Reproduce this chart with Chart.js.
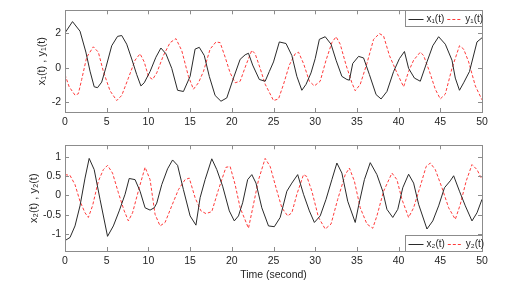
<!DOCTYPE html>
<html>
<head>
<meta charset="utf-8">
<script src="https://cdn.jsdelivr.net/npm/chart.js@4"></script>
<style>
  body { margin: 0; background: #fff; }
  .wrap { position: absolute; left: 0; }
</style>
</head>
<body>
<div class="wrap" style="top:0"><canvas id="top" width="506" height="135"></canvas></div>
<div class="wrap" style="top:135px"><canvas id="bottom" width="506" height="155"></canvas></div>
<script>
// time (s), value pairs
var x1 = [[0,2.0],[0.9,2.65],[1.8,2.1],[2.5,0.9],[3.0,-0.2],[3.5,-1.1],[3.9,-1.15],[4.4,-0.83],[4.9,0],[5.6,1.26],[6.3,1.8],[6.8,1.85],[7.4,1.35],[8.0,0.5],[8.6,-0.4],[9.1,-1.05],[9.5,-0.87],[10.2,-0.22],[10.9,0.6],[11.5,1.13],[12.1,0.8],[12.8,-0.04],[13.5,-1.3],[14.2,-1.37],[15.0,-0.5],[15.6,1.07],[16.1,1.17],[16.7,0.7],[17.3,-0.5],[18.0,-1.6],[18.7,-1.93],[19.4,-1.74],[20.2,-0.6],[21.0,0.48],[21.6,0.74],[22.0,0.83],[22.5,0.15],[23.3,-0.68],[24.0,-0.78],[24.5,-0.22],[25.0,0.33],[25.7,1.48],[26.5,1.39],[27.2,0.7],[27.8,-0.5],[28.4,-1.3],[28.9,-0.96],[29.5,-0.3],[30.0,0.52],[30.5,1.63],[31.2,1.78],[31.9,1.35],[32.5,0.43],[33.2,-0.5],[33.8,-0.68],[34.1,-0.72],[34.5,0.24],[35.2,0.65],[35.8,0.56],[36.5,-0.4],[37.3,-1.55],[37.9,-1.8],[38.6,-1.37],[39.4,-0.22],[40.1,0.52],[40.7,0.93],[41.2,-0.04],[41.9,-0.6],[42.6,-0.78],[43.4,0.33],[44.1,1.26],[44.8,1.78],[45.6,1.35],[46.4,0.43],[46.8,-0.6],[47.3,-1.3],[47.8,-0.87],[48.5,-0.22],[49.4,1.48],[50,1.72]];
var y1 = [[0,-0.4],[0.5,-1.1],[1.2,-1.58],[1.6,-1.5],[2.0,-0.68],[2.6,0.6],[3.4,1.2],[4.0,0.89],[4.6,-0.22],[5.4,-1.33],[6.2,-1.89],[6.8,-1.6],[7.6,-0.6],[8.4,0.43],[9.0,0.8],[9.5,0.33],[10.0,-0.5],[10.5,-0.68],[11.0,-0.3],[11.8,0.7],[12.6,1.44],[13.3,1.67],[14.0,0.98],[14.8,-0.5],[15.4,-1.24],[16.0,-0.87],[16.6,-0.22],[17.4,1.07],[18.1,1.48],[18.6,1.44],[19.2,0.61],[19.8,-0.3],[20.4,-0.87],[21.0,-0.78],[21.7,0.15],[22.4,1.0],[22.8,0.8],[23.4,-0.04],[24.0,-0.95],[25.0,-1.89],[25.6,-1.8],[26.2,-0.96],[26.9,0.15],[27.6,0.8],[28.0,0.89],[28.6,0.24],[29.3,-0.78],[29.9,-1.05],[30.6,-0.78],[31.3,0.43],[32.0,1.44],[32.5,1.78],[33.0,1.35],[33.7,0.15],[34.4,-0.87],[34.8,-1.33],[35.4,-0.96],[36.2,0.24],[37.0,1.63],[37.7,1.96],[38.2,1.82],[38.9,0.7],[39.8,-0.3],[40.6,-1.1],[41.2,-0.22],[41.8,0.43],[42.6,0.89],[43.0,0.7],[43.7,-0.22],[44.4,-1.24],[45.0,-1.8],[45.6,-1.52],[46.4,-0.04],[47.3,1.26],[47.8,1.07],[48.4,0.33],[49.2,-1.05],[50,-1.85]];
var x2 = [[0,-1.17],[0.6,-1.09],[1.2,-0.79],[1.8,-0.27],[2.4,0.45],[2.9,0.96],[3.5,0.67],[4.2,-0.1],[5.1,-1.06],[5.8,-0.79],[6.5,-0.4],[7.2,0.03],[7.7,0.44],[8.4,0.41],[9.0,0.11],[9.6,-0.32],[10.2,-0.38],[10.7,-0.32],[11.0,-0.2],[11.6,0.28],[12.3,0.69],[12.9,0.92],[13.5,0.78],[14.2,0.15],[15.0,-0.53],[15.7,-0.77],[16.2,-0.06],[16.8,0.41],[17.6,0.95],[18.2,0.67],[18.9,0.24],[19.7,-0.4],[20.3,-0.66],[20.8,-0.53],[21.3,-0.19],[21.9,0.41],[22.4,0.54],[22.9,0.32],[23.6,-0.32],[24.4,-0.79],[25.1,-0.81],[25.8,-0.57],[26.6,0.11],[27.2,0.32],[27.9,0.54],[28.6,0.03],[29.3,-0.4],[29.9,-0.7],[30.6,-0.53],[31.3,-0.1],[32.0,0.41],[32.6,0.84],[33.2,0.58],[33.9,-0.15],[34.8,-0.7],[35.2,-0.27],[35.9,0.41],[36.6,0.85],[37.4,0.54],[38.1,0.11],[38.6,-0.36],[39.3,-0.57],[39.9,-0.36],[40.5,0.2],[41.2,0.55],[41.8,0.32],[42.4,-0.23],[43.4,-0.87],[44.1,-0.66],[44.8,-0.27],[45.5,0.2],[46.2,0.38],[46.6,0.51],[47.3,0.11],[48.0,-0.27],[48.8,-0.66],[49.4,-0.45],[50,-0.1]];
var y2 = [[0,0.54],[0.6,0.52],[1.2,0.28],[1.8,-0.15],[2.4,-0.45],[2.8,-0.57],[3.3,-0.27],[4.0,0.37],[4.6,0.67],[5.1,0.78],[5.7,0.58],[6.4,0.07],[7.1,-0.4],[7.6,-0.66],[8.1,-0.45],[8.9,0.2],[9.6,0.73],[10.2,0.41],[10.8,-0.49],[11.4,-0.79],[12.0,-0.7],[12.8,-0.27],[13.6,0.15],[14.4,0.41],[14.9,0.45],[15.6,-0.06],[16.3,-0.4],[16.9,-0.47],[17.6,-0.42],[18.4,0.15],[19.3,0.73],[19.8,0.75],[20.4,0.28],[21.0,-0.32],[22.0,-0.85],[22.6,-0.23],[23.2,0.4],[24.0,0.96],[24.6,0.75],[25.3,0.2],[26.0,-0.32],[26.7,-0.53],[27.2,-0.45],[27.8,0.03],[28.6,0.54],[29.0,0.49],[29.6,0.11],[30.4,-0.57],[31.2,-0.87],[31.9,-0.74],[32.7,-0.1],[33.6,0.54],[34.1,0.71],[34.7,0.37],[35.4,-0.32],[36.2,-0.74],[36.9,-0.85],[37.4,-0.53],[38.2,0.11],[39.2,0.58],[39.8,0.41],[40.4,-0.1],[41.2,-0.57],[41.8,-0.32],[42.6,0.24],[43.3,0.75],[43.8,0.84],[44.4,0.67],[45.2,0.2],[46.0,-0.32],[46.8,-0.62],[47.4,-0.23],[48.1,0.37],[48.8,0.8],[49.4,0.67],[50,0.41]];

var timeTicks = [0, 5, 10, 15, 20, 25, 30, 35, 40, 45, 50];
var topTicks = [-2, 0, 2];
var bottomTicks = [-1, -0.5, 0, 0.5, 1];

var FONT = 'Arial, "Liberation Sans", Helvetica, sans-serif';
var BLACK = '#2a2a2a', RED = '#ff3b3b', AXIS = '#8c8c8c', TXT = '#262626';

function pts(arr) { return arr.map(function (p) { return { x: p[0], y: p[1] }; }); }

// MATLAB-like box with inward ticks, and a boxed legend inside the axes
var boxPlugin = {
  id: 'box',
  afterDraw: function (chart, args, opts) {
    var ctx = chart.ctx, a = chart.chartArea, xs = chart.scales.x, ys = chart.scales.y;
    ctx.save();
    ctx.strokeStyle = AXIS;
    ctx.lineWidth = 1;
    ctx.strokeRect(Math.round(a.left) + 0.5, Math.round(a.top) + 0.5, Math.round(a.right - a.left), Math.round(a.bottom - a.top));
    ctx.beginPath();
    xs.ticks.forEach(function (t) {
      var p = Math.round(xs.getPixelForValue(t.value)) + 0.5;
      ctx.moveTo(p, a.bottom); ctx.lineTo(p, a.bottom - 4);
      ctx.moveTo(p, a.top); ctx.lineTo(p, a.top + 4);
    });
    ys.ticks.forEach(function (t) {
      var p = Math.round(ys.getPixelForValue(t.value)) + 0.5;
      ctx.moveTo(a.left, p); ctx.lineTo(a.left + 4, p);
      ctx.moveTo(a.right, p); ctx.lineTo(a.right - 4, p);
    });
    ctx.stroke();

    // legend
    var w = 77, h = 16;
    var lx = Math.round(a.right) - w + 0.5;
    var ly = opts.corner === 'top' ? Math.round(a.top) + 0.5 : Math.round(a.bottom) - h + 0.5;
    ctx.fillStyle = '#fff';
    ctx.fillRect(lx, ly, w, h);
    ctx.strokeStyle = AXIS;
    ctx.strokeRect(lx, ly, w, h);
    ctx.font = '10px ' + FONT;
    ctx.textBaseline = 'middle';
    var cx = lx + 3, cy = ly + h / 2 + 0.5;
    chart.data.datasets.forEach(function (ds) {
      ctx.strokeStyle = ds.borderColor;
      ctx.lineWidth = 1;
      ctx.setLineDash(ds.borderDash || []);
      ctx.beginPath();
      ctx.moveTo(cx, Math.round(cy) + 0.5); ctx.lineTo(cx + 15, Math.round(cy) + 0.5);
      ctx.stroke();
      ctx.setLineDash([]);
      ctx.fillStyle = TXT;
      ctx.fillText(ds.label, cx + 18, cy);
      cx += 18 + ctx.measureText(ds.label).width + 3;
    });
    ctx.restore();
  }
};

function makeChart(id, s1, s2, labels, yMin, yMax, yTicks, yTitle, opts) {
  return new Chart(document.getElementById(id), {
    type: 'line',
    data: {
      datasets: [{
        label: labels[0],
        data: pts(s1),
        borderColor: BLACK,
        borderWidth: 1,
        pointRadius: 0,
        tension: 0
      }, {
        label: labels[1],
        data: pts(s2),
        borderColor: RED,
        borderWidth: 1,
        borderDash: [3, 2],
        pointRadius: 0,
        tension: 0
      }]
    },
    options: {
      responsive: false,
      animation: false,
      layout: { padding: { top: opts.padTop, right: 24, left: 0, bottom: 0 } },
      plugins: {
        legend: { display: false },
        tooltip: { enabled: false },
        box: { corner: opts.corner }
      },
      scales: {
        x: {
          type: 'linear',
          min: 0, max: 50,
          afterBuildTicks: function (s) { s.ticks = timeTicks.map(function (v) { return { value: v }; }); },
          afterFit: function (s) { s.height = opts.xHeight; },
          grid: { display: false, drawTicks: false },
          border: { display: false },
          ticks: { color: TXT, padding: 4, maxRotation: 0, font: { size: 10.5, family: FONT },
            callback: function (v) { return String(v); } },
          title: {
            display: !!opts.xTitle,
            text: opts.xTitle || '',
            color: TXT,
            font: { size: 10.5, family: FONT },
            padding: { bottom: opts.xTitlePad || 0 }
          }
        },
        y: {
          min: yMin, max: yMax,
          afterBuildTicks: function (s) { s.ticks = yTicks.map(function (v) { return { value: v }; }); },
          afterFit: function (s) { s.width = 65; },
          grid: { display: false, drawTicks: false },
          border: { display: false },
          ticks: { color: TXT, padding: 4, font: { size: 10.5, family: FONT },
            callback: function (v) { return String(v); } },
          title: {
            display: true,
            text: yTitle,
            color: TXT,
            font: { size: 11, family: FONT },
            padding: { top: opts.yTitlePad }
          }
        }
      }
    },
    plugins: [boxPlugin]
  });
}

makeChart('top', x1, y1, ['x\u2081(t)', 'y\u2081(t)'], -2.55, 3.3, topTicks,
  'x\u2081(t) , y\u2081(t)', { padTop: 7, xHeight: 23, yTitlePad: 35, corner: 'top' });

makeChart('bottom', x2, y2, ['x\u2082(t)', 'y\u2082(t)'], -1.44, 1.3, bottomTicks,
  'x\u2082(t) , y\u2082(t)', { padTop: 9, xHeight: 39, yTitlePad: 27, corner: 'bottom',
    xTitle: 'Time (second)', xTitlePad: 9 });
</script>
</body>
</html>
